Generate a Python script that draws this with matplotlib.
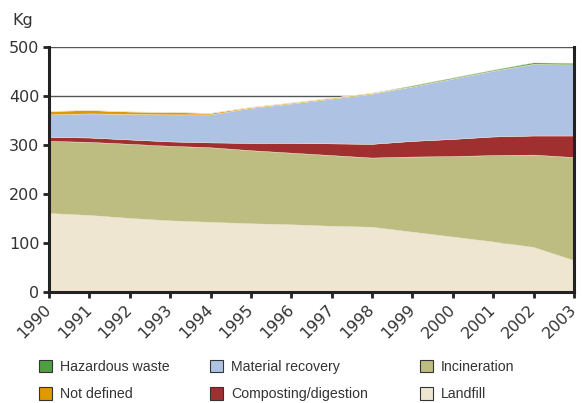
import matplotlib
matplotlib.use("Agg")
import matplotlib.pyplot as plt
from matplotlib.patches import Patch
import numpy as np

years = list(range(1990, 2004))
landfill = [160, 156, 150, 145, 142, 139, 137, 134, 132, 122, 112, 102, 91, 64]
incineration = [147, 149, 151, 152, 152, 149, 146, 144, 141, 153, 164, 176, 188, 210]
composting = [8, 9, 9, 9, 10, 15, 20, 24, 28, 32, 35, 38, 39, 44]
material = [46, 49, 52, 55, 57, 71, 80, 91, 102, 111, 123, 134, 146, 145]
not_defined = [7, 7, 5, 5, 3, 2, 2, 2, 2, 0, 0, 0, 0, 0]
hazardous = [0, 0, 0, 0, 0, 0, 0, 0, 0, 2, 2, 2, 3, 3]

labels = ["Landfill", "Incineration", "Composting/digestion", "Material recovery",
          "Not defined", "Hazardous waste"]
colors = ["#EEE6D0", "#BDBD82", "#A03030", "#AEC3E4", "#E09A00", "#4CA040"]

fig = plt.figure(figsize=(5.82, 4.03), dpi=100)
ax = fig.add_axes([49/582, 1-292/403, (574-49)/582, (292-46.7)/403])

series = [landfill, incineration, composting, material, not_defined, hazardous]
ax.stackplot(years, *series, colors=colors, linewidth=0.3, edgecolors=colors, zorder=2)

ax.set_xlim(1990, 2003)
ax.set_ylim(0, 500)
ax.set_yticks([0, 100, 200, 300, 400, 500])
ax.set_xticks(years)
ax.set_xticklabels([str(y) for y in years], rotation=45, ha="right", va="center",
                   rotation_mode="anchor")
ax.yaxis.grid(True, color="#555555", linewidth=1.0, zorder=0)
ax.set_axisbelow(True)
for s in ["left", "bottom", "right"]:
    ax.spines[s].set_color("#222222")
    ax.spines[s].set_linewidth(2.2)
ax.spines["top"].set_visible(False)
ax.tick_params(axis="both", colors="#222222", labelcolor="#333333", labelsize=11.5,
               length=4, width=2)
ax.tick_params(axis="y", pad=3)
ax.tick_params(axis="x", pad=7)

fig.text(12/582, 1-20/403, "Kg", fontsize=11.5, color="#333333", va="center", ha="left")

def mk(i):
    return Patch(facecolor=colors[i], edgecolor="#333333", linewidth=0.8, label=labels[i])

groups = [([5, 4], 39), ([3, 2], 210), ([1, 0], 420)]
for idx, xpx in groups:
    leg = fig.legend(handles=[mk(i) for i in idx], loc="upper left",
                     bbox_to_anchor=(xpx/582, 1-360/403), frameon=False,
                     prop={"family": "Liberation Sans", "size": 10.2},
                     handlelength=0.95, handleheight=0.95, handletextpad=0.55,
                     labelspacing=0.95, borderpad=0, borderaxespad=0)
    for t in leg.get_texts():
        t.set_color("#333333")

fig.savefig("out.png", dpi=100)
